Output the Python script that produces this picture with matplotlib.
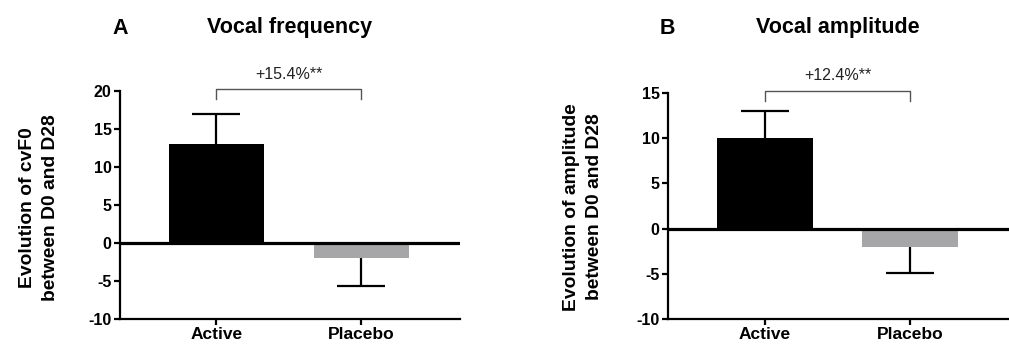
import numpy as np
import matplotlib.pyplot as plt

plt.rcParams['font.family'] = ['Liberation Sans', 'DejaVu Sans']
plt.rcParams['axes.unicode_minus'] = False

# data
groups = ['Active', 'Placebo']
freq_means = [13, -2]
freq_err_up = [4, 0]
freq_err_down = [0, 3.6]
amp_means = [10, -2]
amp_err_up = [3, 0]
amp_err_down = [0, 2.9]
bar_colors = ['#000000', '#A6A6A8']

fig = plt.figure(figsize=(10.09, 3.47), dpi=100)
axA = fig.add_axes([120/1009, 1-319/347, 340/1009, 228/347])
axB = fig.add_axes([668/1009, 1-319/347, 341/1009, 226/347])


def draw(ax, means, err_up, err_down, ylim, yticks, bracket_y, label):
    x = np.arange(len(groups))
    ax.bar(x, means, width=0.66, color=bar_colors, zorder=2)
    # one-sided error bars
    means = np.array(means, dtype=float)
    tips = means + np.array(err_up) - np.array(err_down)
    ax.vlines(x, means, tips, color='black', lw=1.6, zorder=1)
    ax.hlines(tips, x - 0.165, x + 0.165, color='black', lw=1.6, zorder=3)
    ax.axhline(0, color='black', lw=2.3, zorder=4)
    ax.set_ylim(*ylim)
    ax.set_xlim(-0.665, 1.68)
    ax.set_yticks(yticks)
    ax.set_xticks(x)
    ax.set_xticklabels(groups, fontsize=12.5, fontweight='bold')
    for t in ax.get_yticklabels():
        t.set_fontsize(11.5)
        t.set_fontweight('bold')
    for s in ['top', 'right']:
        ax.spines[s].set_visible(False)
    for s in ['left', 'bottom']:
        ax.spines[s].set_linewidth(1.6)
    ax.tick_params(axis='both', width=1.6, length=4, pad=2)
    # significance bracket
    b_top, b_bot = bracket_y
    ax.plot([0, 0, 1, 1], [b_bot, b_top, b_top, b_bot], color='#555555', lw=1.0,
            clip_on=False)
    ax.text(0.5, b_top + (ylim[1]-ylim[0])*0.035, label, ha='center', va='bottom',
            fontsize=11.5, color='#222222', clip_on=False)


draw(axA, freq_means, freq_err_up, freq_err_down, (-10, 20), [-10, -5, 0, 5, 10, 15, 20],
     (20.2, 19.0), '+15.4%**')
draw(axB, amp_means, amp_err_up, amp_err_down, (-10, 15), [-10, -5, 0, 5, 10, 15],
     (15.2, 14.1), '+12.4%**')

fig.text(290/1009, 1-27/347, 'Vocal frequency', ha='center', va='center',
         fontsize=15.5, fontweight='bold')
fig.text(120/1009, 1-28/347, 'A', ha='center', va='center', fontsize=15.5, fontweight='bold')
fig.text(838/1009, 1-28/347, 'Vocal amplitude', ha='center', va='center',
         fontsize=15.5, fontweight='bold')
fig.text(667/1009, 1-28/347, 'B', ha='center', va='center', fontsize=15.5, fontweight='bold')

fig.text(39/1009, 1-208/347, 'Evolution of cvF0\nbetween D0 and D28', rotation=90,
         ha='center', va='center', ma='center', fontsize=13.9, fontweight='bold',
         linespacing=1.4)
fig.text(583/1009, 1-207/347, 'Evolution of amplitude\nbetween D0 and D28', rotation=90,
         ha='center', va='center', ma='center', fontsize=13.9, fontweight='bold',
         linespacing=1.4)

fig.savefig('out.png', dpi=100)
